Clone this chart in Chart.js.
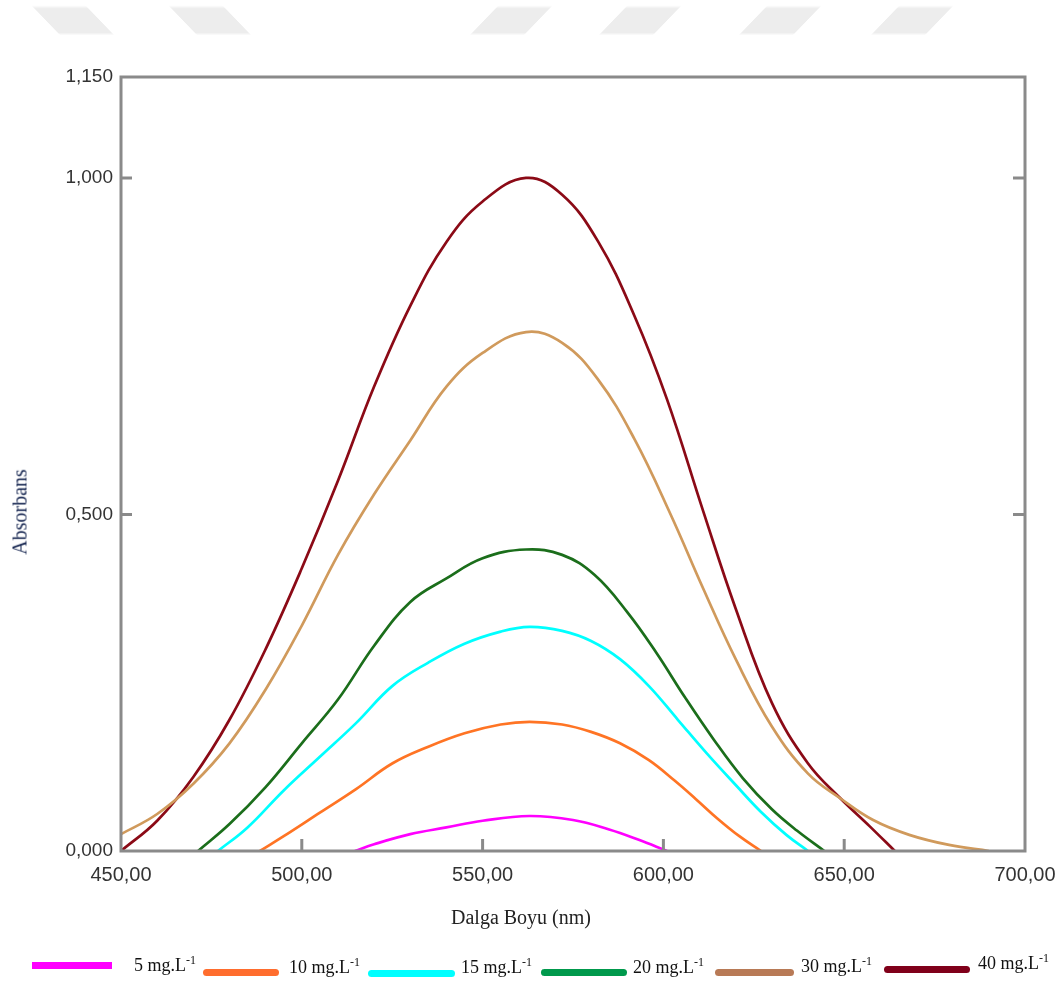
<!DOCTYPE html>
<html>
<head>
<meta charset="utf-8">
<script src="https://cdn.jsdelivr.net/npm/chart.js@4.4.1/dist/chart.umd.min.js"></script>
<style>
  html, body { margin: 0; padding: 0; background: #fff; }
  #wrap { position: relative; width: 1059px; height: 982px; overflow: hidden; }
  #chart { position: absolute; left: 0; top: 0; }
  .stripe { position: absolute; top: 7px; width: 54px; height: 27px; background: #ededed; filter: blur(0.6px); }
  .ttl { position: absolute; font-family: "Liberation Serif", "Times New Roman", serif; font-size: 20px; white-space: nowrap; }
  .sw { position: absolute; height: 7px; }
  .lg { position: absolute; font-family: "Liberation Serif", "Times New Roman", serif; font-size: 18px; color: #111; white-space: nowrap; }
  .lg sup { font-size: 12px; vertical-align: 7px; }
</style>
</head>
<body>
<div id="wrap">
  <canvas id="chart" width="1059" height="982"></canvas>
  <div class="ttl" style="left:451px; top:906px; color:#222;">Dalga Boyu (nm)</div>
  <div class="ttl" style="left:20px; top:512px; color:#14244f; transform: translate(-50%, -50%) rotate(-90deg);">Absorbans</div>
</div>
<script>
// wavelength (nm) / absorbance pairs for each concentration
var wl5 = [514.7, 520, 530, 540, 550, 563, 575, 585, 593, 601]
var abs5 = [0, 0.010, 0.025, 0.035, 0.045, 0.052, 0.046, 0.032, 0.017, 0]

var wl10 = [488.4, 495, 505, 515, 525, 535, 545, 555, 563, 572, 580, 588, 596, 603, 609, 615, 621, 627]
var abs10 = [0, 0.022, 0.057, 0.092, 0.130, 0.155, 0.175, 0.188, 0.192, 0.188, 0.177, 0.160, 0.135, 0.105, 0.077, 0.048, 0.022, 0]

var wl15 = [476.8, 485, 495, 505, 515, 525, 535, 545, 555, 563, 572, 580, 588, 596, 604, 612, 620, 627, 634, 640]
var abs15 = [0, 0.035, 0.090, 0.140, 0.190, 0.245, 0.280, 0.308, 0.326, 0.333, 0.327, 0.312, 0.285, 0.245, 0.195, 0.145, 0.098, 0.058, 0.024, 0]

var wl20 = [471.3, 480, 490, 500, 510, 520, 530, 540, 550, 562, 572, 581, 590, 598, 606, 614, 622, 630, 637, 644.5]
var abs20 = [0, 0.040, 0.095, 0.160, 0.225, 0.305, 0.370, 0.405, 0.435, 0.448, 0.440, 0.410, 0.355, 0.295, 0.228, 0.165, 0.108, 0.062, 0.030, 0]

var wl30 = [450, 460, 470, 480, 490, 500, 510, 520, 530, 540, 550, 562, 572, 582, 592, 602, 611, 620, 630, 640, 649, 658, 668, 679, 690]
var abs30 = [0.025, 0.055, 0.100, 0.160, 0.240, 0.335, 0.440, 0.530, 0.610, 0.690, 0.740, 0.771, 0.755, 0.700, 0.612, 0.500, 0.390, 0.285, 0.185, 0.115, 0.078, 0.046, 0.024, 0.009, 0]

var wl40 = [450, 460, 470, 480, 490, 500, 510, 520, 530, 540, 550, 562, 572, 582, 592, 601, 611, 620, 630, 640, 649, 657, 664]
var abs40 = [0, 0.045, 0.110, 0.195, 0.300, 0.420, 0.550, 0.690, 0.810, 0.905, 0.965, 1.000, 0.975, 0.905, 0.795, 0.671, 0.505, 0.360, 0.220, 0.130, 0.078, 0.037, 0]

var seriesNames = ['5 mg.L', '10 mg.L', '15 mg.L', '20 mg.L', '30 mg.L', '40 mg.L']
var lineColors = ['#ff00ff', '#ff7424', '#00ffff', '#1b6e1b', '#d09a5c', '#8b0a16']
var legendColors = ['#ff00ff', '#ff6d2e', '#00ffff', '#00994c', '#b87a56', '#80001a']
var xTicks = [450, 500, 550, 600, 650, 700]
var yTicks = [0, 0.5, 1.0, 1.15]

var wls = [wl5, wl10, wl15, wl20, wl30, wl40]
var absList = [abs5, abs10, abs15, abs20, abs30, abs40]

function pairs(xs, ys) {
	return xs.map(function(x, i) { return { x: x, y: ys[i] } })
}

var datasets = seriesNames.map(function(name, i) {
	return {
		label: name + '-1',
		data: pairs(wls[i], absList[i]),
		borderColor: lineColors[i],
		borderWidth: 2.7,
		pointRadius: 0,
		fill: false,
		tension: 0.4
	}
})

// frame + inward ticks like the original plot
var frameTicks = {
	id: 'frameTicks',
	afterDatasetsDraw(chart) {
		var ctx = chart.ctx
		var a = chart.chartArea
		var x = chart.scales.x
		var y = chart.scales.y
		ctx.save()
		ctx.strokeStyle = '#8a8a8a'
		ctx.lineWidth = 3
		ctx.strokeRect(a.left, a.top, a.right - a.left, a.bottom - a.top)
		ctx.beginPath()
		y.ticks.forEach(function(t) {
			if (t.value <= 0 || t.value >= 1.15) return
			var py = y.getPixelForValue(t.value)
			ctx.moveTo(a.left, py); ctx.lineTo(a.left + 11, py)
			ctx.moveTo(a.right - 12, py); ctx.lineTo(a.right, py)
		})
		x.ticks.forEach(function(t) {
			if (t.value <= 450 || t.value >= 700) return
			var px = x.getPixelForValue(t.value)
			ctx.moveTo(px, a.bottom); ctx.lineTo(px, a.bottom - 12)
		})
		ctx.stroke()
		ctx.restore()
	}
}

new Chart(document.getElementById('chart'), {
	type: 'line',
	data: { datasets: datasets },
	options: {
		responsive: false,
		animation: false,
		events: [],
		layout: { padding: { left: 0, top: 77, right: 34, bottom: 81 } },
		plugins: { legend: { display: false }, tooltip: { enabled: false } },
		scales: {
			x: {
				type: 'linear',
				min: 450,
				max: 700,
				afterBuildTicks: function(s) { s.ticks = xTicks.map(function(v) { return { value: v } }) },
				afterFit: function(s) { s.height = 50; s.paddingLeft = 0; s.paddingRight = 0 },
				grid: { display: false, drawTicks: false },
				border: { display: false },
				ticks: {
					padding: 12,
					maxRotation: 0,
					color: '#333',
					font: { family: 'Liberation Sans', size: 20 },
					callback: function(v) { return v.toFixed(2).replace('.', ',') }
				}
			},
			y: {
				type: 'linear',
				min: 0,
				max: 1.15,
				afterBuildTicks: function(s) { s.ticks = yTicks.map(function(v) { return { value: v } }) },
				afterFit: function(s) { s.width = 121; s.paddingTop = 0; s.paddingBottom = 0 },
				grid: { display: false, drawTicks: false },
				border: { display: false },
				ticks: {
					padding: 8,
					color: '#333',
					font: { family: 'Liberation Sans', size: 19 },
					callback: function(v) { return v.toFixed(3).replace('.', ',') }
				}
			}
		}
	},
	plugins: [frameTicks]
})

// legend row (swatch + label with superscript) and faint header stripes
var wrap = document.getElementById('wrap')
var swatchPos = [[32, 112, 962, 0], [203, 279, 969, 4], [368, 455, 970, 4], [541, 627, 969, 4], [715, 794, 969, 4], [884, 970, 966, 4]]
var labelPos = [[134, 953], [289, 955], [461, 955], [633, 955], [801, 954], [978, 951]]
seriesNames.forEach(function(name, i) {
	var sw = document.createElement('div')
	sw.className = 'sw'
	sw.style.left = swatchPos[i][0] + 'px'
	sw.style.width = (swatchPos[i][1] - swatchPos[i][0]) + 'px'
	sw.style.top = swatchPos[i][2] + 'px'
	sw.style.borderRadius = swatchPos[i][3] + 'px'
	sw.style.background = legendColors[i]
	wrap.appendChild(sw)
	var lb = document.createElement('div')
	lb.className = 'lg'
	lb.style.left = labelPos[i][0] + 'px'
	lb.style.top = labelPos[i][1] + 'px'
	lb.innerHTML = name + '<sup>-1</sup>'
	wrap.appendChild(lb)
})
var stripes = [[73, 44], [210, 44], [511, -44], [640, -44], [780, -44], [912, -44]]
stripes.forEach(function(s) {
	var d = document.createElement('div')
	d.className = 'stripe'
	d.style.left = (s[0] - 27) + 'px'
	d.style.transform = 'skewX(' + s[1] + 'deg)'
	wrap.appendChild(d)
})
</script>
</body>
</html>
